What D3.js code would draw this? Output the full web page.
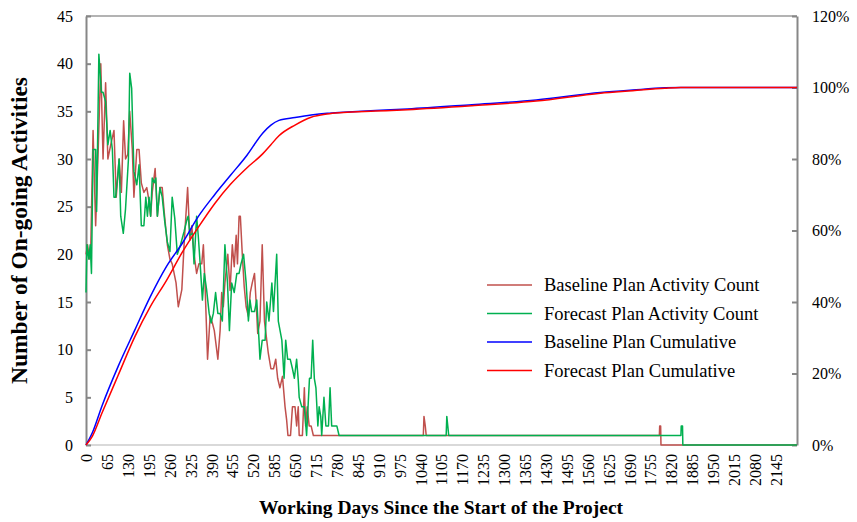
<!DOCTYPE html>
<html>
<head>
<meta charset="utf-8">
<script src="https://cdn.jsdelivr.net/npm/d3@7"></script>
<style>
	body { margin: 0; background: #fff; }
	text { font-family: "Liberation Serif", "Times New Roman", serif; }
</style>
</head>
<body>
<svg id="chart" width="857" height="522"></svg>
<script>
// Baseline plan activity count (day, count)
const baseDays = [0, 5, 10, 15, 22, 30, 38, 46, 53, 61, 68, 77, 87, 94, 103, 110, 117, 123, 130, 136, 144, 149, 158, 165, 172, 180, 189, 194, 201, 206, 215, 222, 230, 237, 243, 253, 261, 268, 280, 287, 298, 305, 316, 323, 329, 336, 344, 351, 360, 365, 370, 378, 386, 393, 399, 410, 417, 422, 427, 432, 441, 448, 455, 461, 467, 471, 476, 480, 486, 492, 498, 505, 511, 517, 524, 529, 534, 541, 548, 555, 562, 567, 575, 583, 590, 596, 603, 611, 619, 624, 628, 636, 642, 650, 655, 660, 663, 673, 679, 683, 688, 694, 700, 707, 1049, 1051, 1055, 1058, 1783, 1784, 1787, 1788, 2211];
const baseCounts = [20, 21, 19.5, 21, 33, 23, 31, 40, 30, 38, 30, 31.5, 33, 26, 30, 26.5, 34, 30, 30.5, 35, 31, 26, 31, 31, 27.5, 26.5, 27, 26, 24, 26.5, 29, 24, 27, 27, 24.5, 21, 19.5, 19, 17, 14.5, 16.3, 21, 27, 21.5, 23, 20, 18, 19, 19, 21, 17, 9, 13.5, 12.8, 12, 9, 12, 16, 14.5, 17, 20, 16.2, 21, 18.7, 22, 19, 24, 24, 20, 16.6, 14.5, 13.5, 16, 17, 18, 15, 11.7, 13, 21, 13, 11, 9.6, 8, 8, 9, 7, 6, 7.2, 4, 2.6, 1, 1, 4, 4, 2, 4, 1, 1, 6, 2, 4, 2, 2, 1, 1, 3, 2, 1, 1, 2, 2, 0, 0];

// Forecast plan activity count (day, count)
const foreDays = [0, 3, 9, 13, 17, 22, 30, 33, 40, 48, 53, 61, 68, 75, 82, 87, 92, 98, 103, 108, 116, 123, 132, 136, 142, 149, 158, 165, 172, 180, 186, 191, 196, 201, 206, 212, 217, 222, 230, 237, 245, 253, 261, 268, 276, 284, 294, 305, 315, 318, 323, 331, 336, 344, 349, 355, 362, 368, 375, 383, 389, 396, 403, 410, 417, 424, 432, 440, 446, 453, 461, 469, 476, 482, 490, 498, 505, 510, 515, 524, 531, 538, 541, 548, 557, 562, 569, 578, 583, 593, 598, 609, 616, 621, 627, 635, 642, 648, 655, 660, 663, 671, 679, 686, 692, 695, 700, 705, 710, 715, 721, 725, 730, 733, 740, 746, 754, 759, 764, 780, 787, 1120, 1122, 1125, 1128, 1850, 1851, 1855, 1856, 2211];
const foreCounts = [16, 21, 19.5, 21, 18, 31, 31, 24.5, 41, 37, 37, 36, 31.5, 33, 31, 26, 26, 28, 30, 24, 22.2, 24.8, 30, 39, 37.4, 28.7, 27.3, 29.4, 23, 23, 26, 24, 26, 24, 28, 27.5, 28, 24, 27, 26, 23.4, 21.3, 20.3, 26, 23.8, 20, 21, 22.4, 23.8, 24, 22, 22.2, 19, 24, 22, 19, 15.2, 18, 16.3, 13.8, 12.8, 13.8, 16, 13.8, 13.8, 13, 21, 17, 12, 17, 16, 18, 18, 19, 20, 17, 13, 15.2, 14, 14, 15.2, 11, 9, 11, 11, 15, 13, 17, 14, 20, 13, 11, 7, 11, 9, 9, 8, 7, 9, 6.8, 5, 4, 4, 1, 5, 7, 7, 11, 7, 6, 2, 4, 3, 1, 5, 2, 2, 6, 2, 2, 1, 1, 3, 2, 1, 1, 2, 2, 0, 0];

// Cumulative curves (day, percent complete)
const cumDays = [0, 20, 50, 100, 152, 200, 250, 300, 350, 400, 450, 500, 550, 575, 600, 650, 700, 750, 800, 900, 1000, 1200, 1400, 1600, 1700, 1800, 1850, 2211];
const baseCum = [0, 3.5, 11, 22, 32.2, 41.5, 49.9, 56.5, 64, 70, 75.5, 81, 87.3, 89.5, 90.8, 91.6, 92.3, 92.8, 93.1, 93.6, 94, 95.2, 96.5, 98.6, 99.3, 99.9, 100, 100];
const foreCum = [0, 2.5, 9, 19.5, 30.3, 38.7, 46, 54, 61, 67.5, 73, 77.5, 81.5, 84, 86.5, 89.5, 91.7, 92.6, 93, 93.4, 93.8, 94.9, 96.2, 98.4, 99.1, 99.8, 100, 100];

const xTicks = d3.range(0, 2146, 65);
const yTicks = d3.range(0, 46, 5);
const pctTicks = d3.range(0, 121, 20);

const legendNames = ['Baseline Plan Activity Count', 'Forecast Plan Activity Count', 'Baseline Plan Cumulative', 'Forecast Plan Cumulative'];
const colors = ['#C0504D', '#00B050', '#0000FF', '#FF0000'];

const plotL = 86, plotR = 797, plotT = 16, plotB = 445;

const svg = d3.select('#chart');

const x = d3.scaleLinear().domain([0, 2211]).range([plotL, plotR]);
const y = d3.scaleLinear().domain([0, 45]).range([plotB, plotT]);
const y2 = d3.scaleLinear().domain([0, 120]).range([plotB, plotT]);

// frame
svg.append('line')
	.attr('x1', plotL).attr('x2', plotR).attr('y1', plotT).attr('y2', plotT)
	.attr('stroke', '#9a9a9a').attr('stroke-width', 1.5);

svg.append('line')
	.attr('x1', plotL).attr('x2', plotR).attr('y1', plotB).attr('y2', plotB)
	.attr('stroke', '#d9d9d9').attr('stroke-width', 2);

// left axis
const yAxis = svg.append('g')
	.attr('transform', `translate(${plotL},0)`)
	.call(d3.axisLeft(y).tickValues(yTicks).tickSizeInner(-5).tickSizeOuter(0).tickPadding(13));

// right axis
const y2Axis = svg.append('g')
	.attr('transform', `translate(${plotR},0)`)
	.call(d3.axisRight(y2).tickValues(pctTicks).tickSizeInner(-5).tickSizeOuter(0).tickPadding(15)
		.tickFormat(d => d + '%'));

[yAxis, y2Axis].forEach(g => {
	g.select('.domain').attr('stroke', '#878787').attr('stroke-width', 2);
	g.selectAll('.tick line').attr('stroke', '#878787').attr('stroke-width', 2);
	g.selectAll('.tick text').attr('font-size', 16).attr('fill', '#000')
		.style('font-family', '"Liberation Serif", serif');
});

// bottom axis, rotated labels
const xAxis = svg.append('g')
	.attr('transform', `translate(0,${plotB})`)
	.call(d3.axisBottom(x).tickValues(xTicks).tickSize(0).tickFormat(d => d));

xAxis.select('.domain').remove();
xAxis.selectAll('.tick text')
	.attr('transform', 'rotate(-90)')
	.attr('x', -9).attr('y', 0).attr('dy', '0.35em')
	.attr('text-anchor', 'end')
	.attr('font-size', 16).attr('fill', '#000')
	.style('font-family', '"Liberation Serif", serif');

// series
const countLine = d3.line().x(d => x(d[0])).y(d => y(d[1]));
const cumLine = d3.line().x(d => x(d[0])).y(d => y2(d[1])).curve(d3.curveMonotoneX);

const series = [
	{ pts: d3.zip(baseDays, baseCounts), gen: countLine, color: colors[0] },
	{ pts: d3.zip(foreDays, foreCounts), gen: countLine, color: colors[1] },
	{ pts: d3.zip(cumDays, baseCum), gen: cumLine, color: colors[2] },
	{ pts: d3.zip(cumDays, foreCum), gen: cumLine, color: colors[3] }
];

series.forEach(s => {
	svg.append('path')
		.attr('d', s.gen(s.pts))
		.attr('fill', 'none')
		.attr('stroke', s.color)
		.attr('stroke-width', 1.5)
		.attr('stroke-linejoin', 'round');
});

// legend
const legend = svg.append('g');
legendNames.forEach((name, i) => {
	const ly = 285 + i * 28.5;
	legend.append('line')
		.attr('x1', 487).attr('x2', 532).attr('y1', ly).attr('y2', ly)
		.attr('stroke', colors[i]).attr('stroke-width', 1.5);
	legend.append('text')
		.attr('x', 544).attr('y', ly + 6)
		.attr('font-size', 18.5)
		.text(name);
});

// titles
svg.append('text')
	.attr('transform', `translate(27,${(plotT + plotB) / 2}) rotate(-90)`)
	.attr('text-anchor', 'middle')
	.attr('font-size', 23.5).attr('font-weight', 'bold')
	.text('Number of On-going Activities');

svg.append('text')
	.attr('x', 441).attr('y', 514)
	.attr('text-anchor', 'middle')
	.attr('font-size', 19.5).attr('font-weight', 'bold')
	.text('Working Days Since the Start of the Project');
</script>
</body>
</html>
